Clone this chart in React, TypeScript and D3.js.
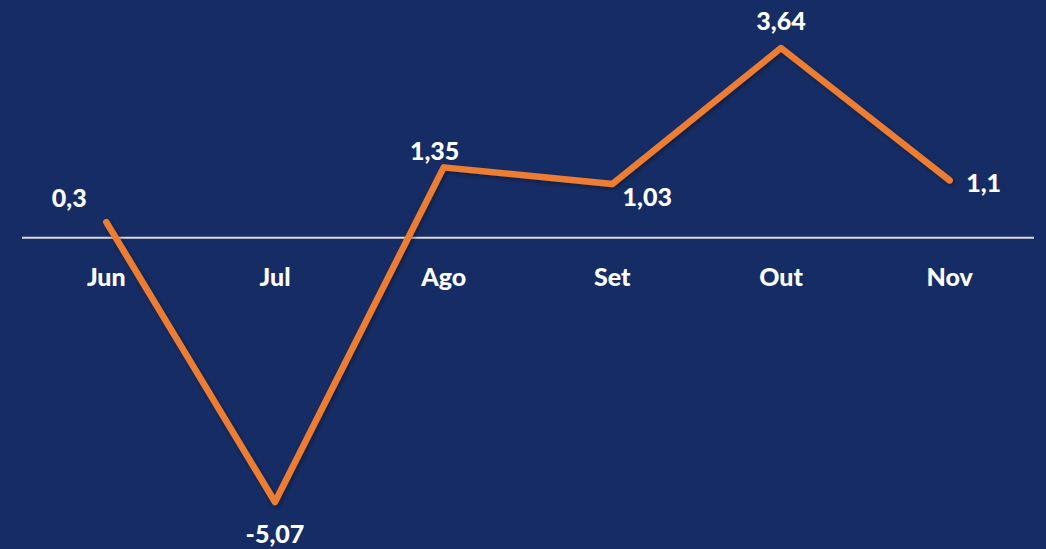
import React, { useEffect, useRef } from 'react';
import * as d3 from 'd3';

const months = ['Jun', 'Jul', 'Ago', 'Set', 'Out', 'Nov'];
const values = [0.3, -5.07, 1.35, 1.03, 3.64, 1.1];
// label offsets from the point (dx, dy)
const labelOffsets: [number, number][] = [
  [-37, -25],
  [0, 31],
  [-9, -17],
  [35, 12],
  [0, -28],
  [34, 2],
];

const W = 1046;
const H = 549;
const FONT = 'Lato, "Open Sans", sans-serif';

export default function App() {
  const ref = useRef<SVGSVGElement | null>(null);

  useEffect(() => {
    document.body.style.margin = '0';
    if (!ref.current) return;
    const svg = d3.select(ref.current);
    svg.selectAll('*').remove();

    svg.append('rect').attr('width', W).attr('height', H).attr('fill', '#162C64');

    const x = d3.scaleBand<string>().domain(months).range([22, 1034]);
    const cx = (m: string) => (x(m) as number) + x.bandwidth() / 2;
    const y = d3.scaleLinear()
      .domain([d3.min(values) as number, d3.max(values) as number])
      .range([502, 48]);

    // zero axis
    svg.append('line')
      .attr('x1', 22).attr('x2', 1034)
      .attr('y1', y(0)).attr('y2', y(0))
      .attr('stroke', '#D9D9D9')
      .attr('stroke-width', 2.2);

    // category labels
    svg.append('g')
      .selectAll('text')
      .data(months)
      .enter()
      .append('text')
      .attr('x', (d) => cx(d))
      .attr('y', y(0) + 38)
      .attr('text-anchor', 'middle')
      .attr('dominant-baseline', 'central')
      .attr('fill', '#FFFFFF')
      .style('font-family', FONT)
      .style('font-weight', 900)
      .style('font-size', '25px')
      .text((d) => d);

    const pts = months.map((m, i) => [cx(m), y(values[i])] as [number, number]);
    const line = d3.line();

    const defs = svg.append('defs');
    const f = defs.append('filter').attr('id', 'sh').attr('x', '-10%').attr('y', '-10%').attr('width', '120%').attr('height', '120%');
    f.append('feDropShadow').attr('dx', 1.5).attr('dy', 2).attr('stdDeviation', 2).attr('flood-color', '#000').attr('flood-opacity', 0.35);

    svg.append('path')
      .attr('d', line(pts))
      .attr('fill', 'none')
      .attr('stroke', '#ED7D31')
      .attr('stroke-width', 6.5)
      .attr('stroke-linecap', 'round')
      .attr('stroke-linejoin', 'round')
      .attr('filter', 'url(#sh)');

    // data labels
    svg.append('g')
      .selectAll('text')
      .data(values)
      .enter()
      .append('text')
      .attr('x', (d, i) => pts[i][0] + labelOffsets[i][0])
      .attr('y', (d, i) => pts[i][1] + labelOffsets[i][1])
      .attr('text-anchor', 'middle')
      .attr('dominant-baseline', 'central')
      .attr('fill', '#FFFFFF')
      .style('font-family', FONT)
      .style('font-weight', 900)
      .style('font-size', '25px')
      .text((d) => String(d).replace('.', ','));
  }, []);

  return <svg ref={ref} width={W} height={H} style={{ display: 'block' }} />;
}
